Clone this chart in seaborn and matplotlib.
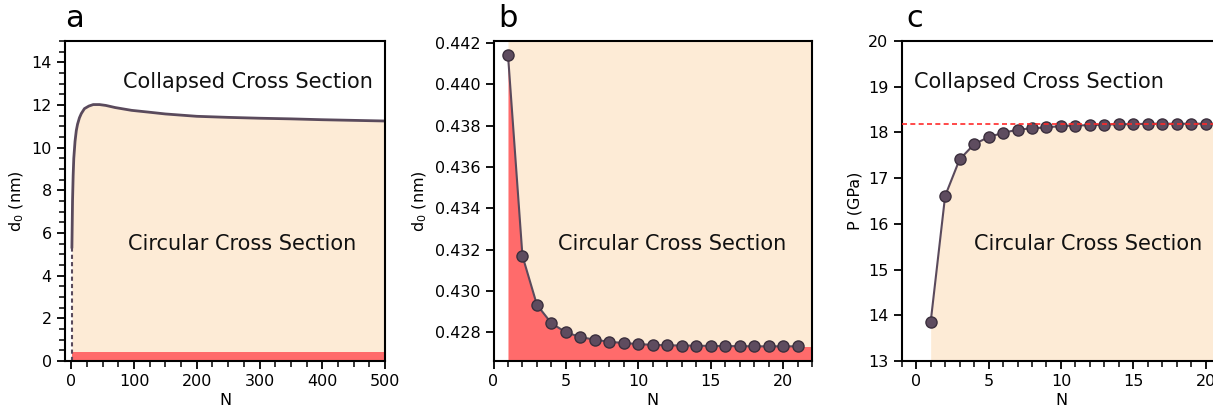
import numpy as np
import pandas as pd
import matplotlib
matplotlib.use("Agg")
import matplotlib.pyplot as plt
import seaborn as sns
from matplotlib.ticker import MultipleLocator, FormatStrFormatter

# panel a: d0 vs N
n_a = [1, 2, 3, 4, 6, 8, 10, 13, 16, 21, 28, 35, 45, 55, 70, 96, 125, 150,
       200, 250, 300, 350, 400, 450, 500]
d0_a = [5.3, 7.5, 8.7, 9.5, 10.3, 10.8, 11.1, 11.4, 11.6, 11.83, 11.95, 12.02,
        12.02, 11.98, 11.88, 11.75, 11.66, 11.58, 11.47, 11.42, 11.38, 11.35,
        11.31, 11.28, 11.25]
d0_min_a = 0.44

# panel b: minimum d0 vs N
n_b = list(range(1, 22))
d0_b = [0.44144, 0.43169, 0.42932, 0.42843, 0.42799, 0.42776, 0.42763,
        0.42753, 0.42747, 0.42742, 0.42738, 0.42736, 0.42735, 0.42734,
        0.42733, 0.42732, 0.42732, 0.42731, 0.42731, 0.42731, 0.42731]

# panel c: collapse pressure vs N
n_c = list(range(1, 22))
p_c = [13.85, 16.61, 17.41, 17.74, 17.90, 17.99, 18.06, 18.09, 18.11, 18.14,
       18.15, 18.16, 18.17, 18.18, 18.18, 18.19, 18.19, 18.19, 18.19, 18.19,
       18.19]
p_limit = 18.19

LINE = "#5a4a5c"
DOT = "#5e4c5f"
DOT_EDGE = "#3b2f3d"
PEACH = "#fdebd6"
RED = "#ff6b6b"

sns.set_style("ticks")
plt.rcParams["font.family"] = ["DejaVu Sans"]
plt.rcParams["text.color"] = "black"
plt.rcParams["axes.labelcolor"] = "black"
plt.rcParams["xtick.color"] = "black"
plt.rcParams["ytick.color"] = "black"
plt.rcParams["xtick.direction"] = "out"
plt.rcParams["ytick.direction"] = "out"

fig = plt.figure(figsize=(12.13, 4.05), dpi=100)
ax_a = fig.add_axes([65 / 1213, 44 / 405, 320 / 1213, 320 / 405])
ax_b = fig.add_axes([493.5 / 1213, 44 / 405, 318.5 / 1213, 320 / 405])
ax_c = fig.add_axes([901.7 / 1213, 44 / 405, 318.5 / 1213, 320 / 405])

text_kw = dict(fontsize=15, ha="center", va="center", color="#111111")


def style(ax):
    for s in ax.spines.values():
        s.set_linewidth(1.5)
        s.set_color("black")
    ax.tick_params(which="major", length=6, width=1.3, labelsize=11.5)
    ax.tick_params(which="minor", length=4, width=1.1)
    ax.xaxis.label.set_size(11.5)
    ax.yaxis.label.set_size(11.5)


# ---- a ----
ax = ax_a
ax.set_xlim(-10, 500)
ax.set_ylim(0, 15)
ax.fill_between(n_a, d0_min_a, d0_a, color=PEACH, lw=0)
ax.fill_between([n_a[0], n_a[-1]], 0, d0_min_a, color=RED, lw=0)
ax.plot([n_a[0], n_a[0]], [0, d0_a[0]], ls=(0, (2, 1.5)), color=LINE, lw=1.5)
sns.lineplot(x=n_a, y=d0_a, ax=ax, color=LINE, lw=2)
ax.xaxis.set_major_locator(MultipleLocator(100))
ax.xaxis.set_minor_locator(MultipleLocator(25))
ax.yaxis.set_major_locator(MultipleLocator(2))
ax.yaxis.set_minor_locator(MultipleLocator(0.5))
ax.set_xlabel("N", labelpad=2.5)
ax.set_ylabel("d$_0$ (nm)")
ax.text(0.572, 0.872, "Collapsed Cross Section", transform=ax.transAxes, **text_kw)
ax.text(0.554, 0.366, "Circular Cross Section", transform=ax.transAxes, **text_kw)
ax.text(0.0, 1.025, "a", transform=ax.transAxes, fontsize=22, va="bottom")

# ---- b ----
ax = ax_b
ax.set_xlim(0, 22)
ax.set_ylim(0.4266, 0.4421)
xb = n_b + [ax.get_xlim()[1]]
yb = d0_b + [d0_b[-1]]
ax.fill_between(xb, ax.get_ylim()[0], yb, color=RED, lw=0)
ax.fill_between(xb, yb, ax.get_ylim()[1], color=PEACH, lw=0)
sns.lineplot(x=n_b, y=d0_b, ax=ax, color=LINE, lw=1.5, marker="o",
             markersize=8, markerfacecolor=DOT, markeredgecolor=DOT_EDGE,
             markeredgewidth=1)
ax.xaxis.set_major_locator(MultipleLocator(5))
ax.xaxis.set_minor_locator(MultipleLocator(1))
ax.yaxis.set_major_locator(MultipleLocator(0.002))
ax.yaxis.set_major_formatter(FormatStrFormatter("%.3f"))
ax.set_xlabel("N", labelpad=2.5)
ax.set_ylabel("d$_0$ (nm)")
ax.text(0.5595, 0.366, "Circular Cross Section", transform=ax.transAxes, **text_kw)
ax.text(0.015, 1.025, "b", transform=ax.transAxes, fontsize=22, va="bottom")

# ---- c ----
ax = ax_c
ax.set_xlim(-1, 21)
ax.set_ylim(13, 20)
ax.fill_between(n_c, ax.get_ylim()[0], p_c, color=PEACH, lw=0)
sns.lineplot(x=n_c, y=p_c, ax=ax, color=LINE, lw=1.5, marker="o",
             markersize=8, markerfacecolor=DOT, markeredgecolor=DOT_EDGE,
             markeredgewidth=1)
ax.axhline(p_limit, color="#ff2a2a", ls=(0, (3, 2)), lw=1.2, zorder=5)
ax.xaxis.set_major_locator(MultipleLocator(5))
ax.xaxis.set_minor_locator(MultipleLocator(1))
ax.yaxis.set_major_locator(MultipleLocator(1))
ax.set_xlabel("N", labelpad=2.5)
ax.set_ylabel("P (GPa)")
ax.text(0.431, 0.872, "Collapsed Cross Section", transform=ax.transAxes, **text_kw)
ax.text(0.584, 0.366, "Circular Cross Section", transform=ax.transAxes, **text_kw)
ax.text(0.015, 1.025, "c", transform=ax.transAxes, fontsize=22, va="bottom")

for ax in (ax_a, ax_b, ax_c):
    style(ax)

fig.savefig("out.png", dpi=100)
